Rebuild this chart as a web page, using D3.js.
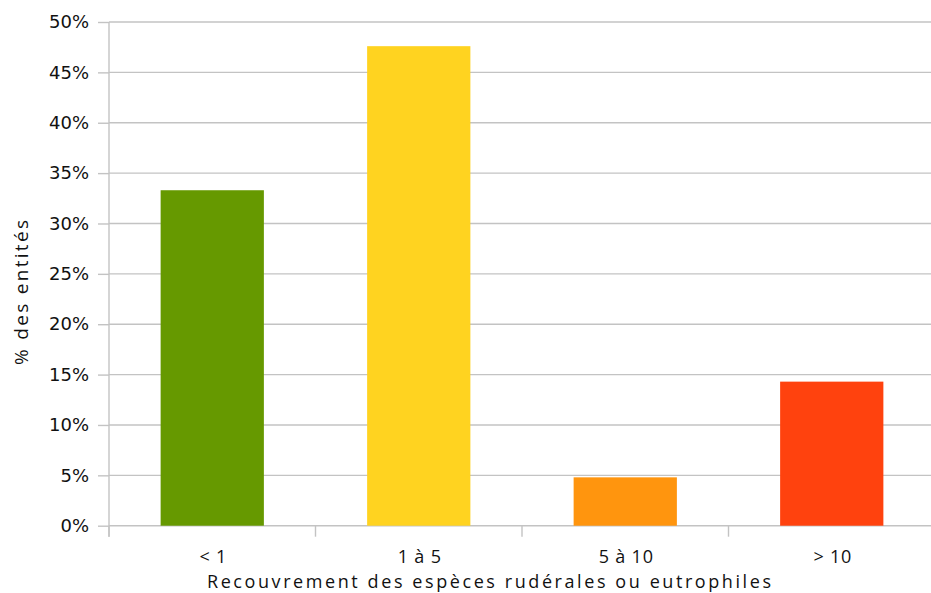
<!DOCTYPE html>
<html>
<head>
<meta charset="utf-8">
<script src="https://cdn.jsdelivr.net/npm/d3@7"></script>
<style>
  html, body { margin: 0; padding: 0; background: #fff; }
  svg { display: block; }
</style>
</head>
<body>
<svg id="chart" width="931" height="593"></svg>
<script>
// Share of entities by cover class of ruderal / eutrophic species
const categories = ["< 1", "1 à 5", "5 à 10", "> 10"];
const values = [33.3, 47.6, 4.8, 14.3];
const colors = ["#669900", "#FFD320", "#FF950E", "#FF420E"];
const yTicks = [0, 5, 10, 15, 20, 25, 30, 35, 40, 45, 50];
const xTitle = "Recouvrement des espèces rudérales ou eutrophiles";
const yTitle = "% des entités";

const svg = d3.select("#chart");
const plotLeft = 109, plotRight = 935, plotTop = 22, plotBottom = 525.7;

const x = d3.scaleBand()
  .domain(categories)
  .range([plotLeft, plotRight])
  .paddingInner(0.5)
  .paddingOuter(0.25);

const y = d3.scaleLinear().domain([0, 50]).range([plotBottom, plotTop]);

const gridColor = "#c3c3c3";

// horizontal gridlines
svg.append("g")
  .selectAll("line")
  .data(yTicks)
  .join("line")
  .attr("x1", plotLeft).attr("x2", plotRight)
  .attr("y1", d => y(d)).attr("y2", d => y(d))
  .attr("stroke", gridColor)
  .attr("stroke-width", 1.4);

// y axis with outward ticks
const yAxis = svg.append("g")
  .attr("transform", `translate(${plotLeft},0)`)
  .call(d3.axisLeft(y).tickValues(yTicks).tickSize(11).tickSizeOuter(0)
    .tickPadding(9).tickFormat(d => d + "%"));
yAxis.select(".domain").remove();
yAxis.selectAll(".tick line").attr("stroke", gridColor).attr("stroke-width", 1.4);
yAxis.selectAll(".tick text")
  .attr("fill", "#111")
  .style("font-family", "'DejaVu Sans', sans-serif")
  .style("font-size", "18px");

// vertical axis line, running a bit below the baseline
svg.append("line")
  .attr("x1", plotLeft).attr("x2", plotLeft)
  .attr("y1", plotTop).attr("y2", plotBottom + 11)
  .attr("stroke", gridColor).attr("stroke-width", 1.4);

// category separator ticks below the baseline
const half = x.step() * x.paddingInner() / 2;
svg.append("g")
  .selectAll("line")
  .data(categories)
  .join("line")
  .attr("x1", d => x(d) - half).attr("x2", d => x(d) - half)
  .attr("y1", plotBottom).attr("y2", plotBottom + 11)
  .attr("stroke", gridColor).attr("stroke-width", 1.4);

// bars
svg.append("g")
  .selectAll("rect")
  .data(categories)
  .join("rect")
  .attr("x", d => x(d))
  .attr("width", x.bandwidth())
  .attr("y", (d, i) => y(values[i]))
  .attr("height", (d, i) => y(0) - y(values[i]))
  .attr("fill", (d, i) => colors[i]);

// category labels
const xAxis = svg.append("g")
  .attr("transform", `translate(1,${plotBottom})`)
  .call(d3.axisBottom(x).tickSize(0));
xAxis.select(".domain").remove();
xAxis.selectAll(".tick text")
  .attr("fill", "#111")
  .attr("dy", 0)
  .attr("y", 37)
  .style("font-family", "'Open Sans', sans-serif")
  .style("font-size", "18px")
  .style("letter-spacing", "0.8px");

// axis titles
svg.append("text")
  .attr("x", 207).attr("y", 587.5)
  .attr("textLength", 564).attr("lengthAdjust", "spacing")
  .attr("fill", "#111")
  .style("font-family", "'Open Sans', sans-serif")
  .style("font-size", "18px")
  .text(xTitle);

svg.append("text")
  .attr("transform", "translate(28,365) rotate(-90)")
  .attr("textLength", 145).attr("lengthAdjust", "spacing")
  .attr("fill", "#111")
  .style("font-family", "'Open Sans', sans-serif")
  .style("font-size", "19px")
  .text(yTitle);
</script>
</body>
</html>
